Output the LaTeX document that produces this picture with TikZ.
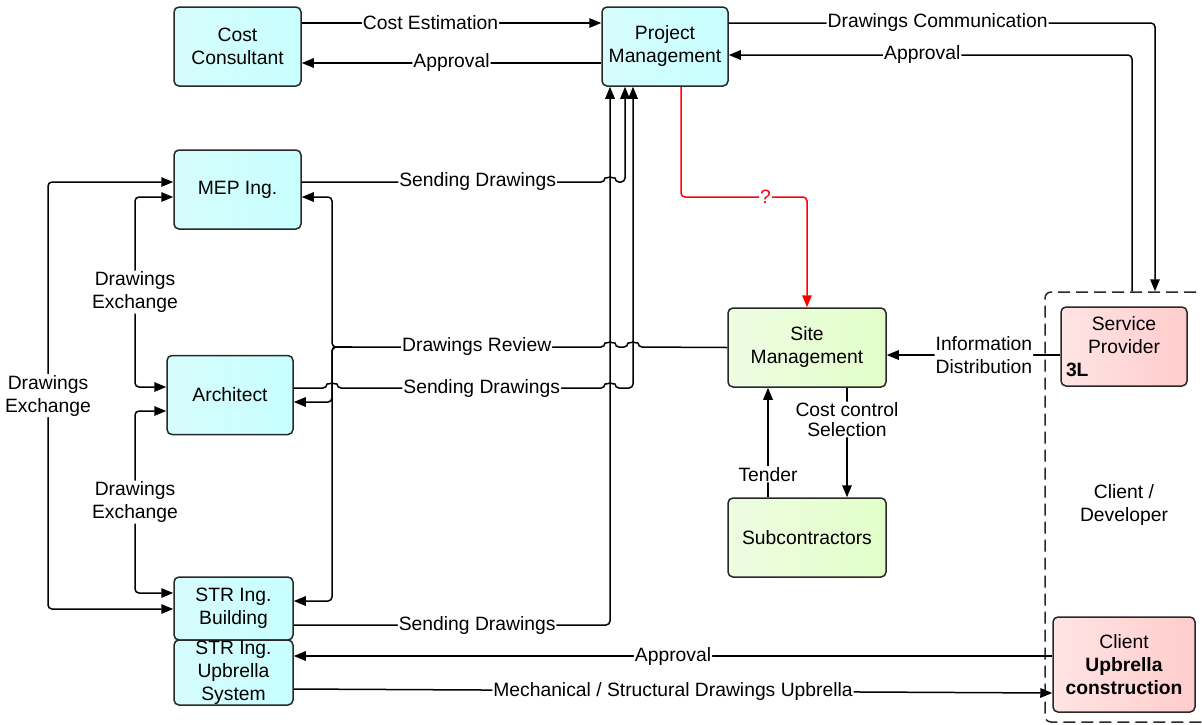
\documentclass[tikz,border=0pt]{standalone}
\usepackage{fontspec}
\setmainfont{Liberation Sans}
\usetikzlibrary{arrows.meta}

\definecolor{cyanA}{RGB}{214,252,252}
\definecolor{cyanB}{RGB}{200,255,255}
\definecolor{greenA}{RGB}{238,252,226}
\definecolor{greenB}{RGB}{226,255,200}
\definecolor{pinkA}{RGB}{255,228,228}
\definecolor{pinkB}{RGB}{255,204,204}
\definecolor{edge}{RGB}{40,40,40}

\tikzset{
  box/.style={draw=edge, line width=1.5pt, rounded corners=5pt, align=center, inner sep=2pt},
  cyanbox/.style={box, left color=cyanA, right color=cyanB},
  greenbox/.style={box, left color=greenA, right color=greenB},
  pinkbox/.style={box, left color=pinkA, right color=pinkB},
  arr/.style={draw=black, line width=1.5pt, rounded corners=4pt, -{Triangle[length=12pt,width=9.5pt]}},
  arrs/.style={arr, {Triangle[length=12pt,width=9.5pt]}-{Triangle[length=12pt,width=9.5pt]}},
  lbl/.style={fill=white, inner sep=1pt, align=center},
}

\begin{document}
\begin{tikzpicture}[x=1pt, y=-1pt, font=\fontsize{19.3}{23}\selectfont]
    \useasboundingbox (0,0) rectangle (1202,724);
    % client / developer frame
    \node[draw=edge, line width=1.5pt, dash pattern=on 12pt off 6pt, rounded corners=6pt,
          minimum width=175pt, minimum height=430pt] (dev) at (1132.5,507) {};
    \node[align=center] (devtxt) at (1124,505) {Client /\\Developer};
    % boxes
    \node[cyanbox, minimum width=127pt, minimum height=79pt] (cost) at (237.5,46.5) {Cost\\Consultant};
    \node[cyanbox, minimum width=126pt, minimum height=79pt] (pm) at (665,46.5) {Project\\Management};
    \node[cyanbox, minimum width=127pt, minimum height=79pt] (mep) at (237.5,189.5) {MEP Ing.};
    \node[cyanbox, minimum width=126pt, minimum height=79pt] (arch) at (230,395) {Architect};
    \node[cyanbox, minimum width=119pt, minimum height=63pt] (strb) at (233.5,608.5) {STR Ing.\\Building};
    \node[cyanbox, minimum width=119pt, minimum height=65pt, inner ysep=0pt] (stru) at (233.5,672.5) {STR Ing.\\Upbrella\\System};
    \node[greenbox, minimum width=158pt, minimum height=79pt] (site) at (807,347.5) {Site\\Management};
    \node[greenbox, minimum width=158pt, minimum height=79pt] (sub) at (807,537.5) {Subcontractors};
    \node[pinkbox, minimum width=126pt, minimum height=79pt] (sp) at (1124,346.5) {Service\\Provider\\\makebox[116pt][l]{\textbf{3L}}};
    \node[pinkbox, minimum width=142pt, minimum height=95pt] (cl) at (1124,664.5) {Client\\\textbf{Upbrella}\\\textbf{construction}};
    % cost consultant <-> project management
    \draw[arr] (cost.east |- 0,23) -- node[lbl, pos=0.43] {Cost Estimation} (pm.west |- 0,23);
    \draw[arr] (pm.west |- 0,63) -- node[lbl] {Approval} (cost.east |- 0,63);
    % project management <-> client side
    \draw[arr] (pm.east |- 0,23) -- node[lbl, pos=0.49] {Drawings Communication} (1155,23) -- (dev.north -| 1155,0);
    \draw[arr] (dev.north -| 1132,0) -- (1132,55) -- node[lbl, pos=0.52] {Approval} (pm.east |- 0,55);
    \draw[arr, red] (pm.south -| 681,0) -- (681,197) -- node[lbl, text=red, pos=0.67] {?} (site.north |- 0,197) -- (site.north);
    % sending drawings to project management
    \draw[arr] (mep.east |- 0,182) -- node[lbl, pos=0.58] {Sending Drawings} (605,182)
        arc[start angle=180, end angle=360, radius=5] -- (625,182) -- (pm.south -| 625,0);
    \draw[arr] (arch.east |- 0,388) -- (327,388) arc[start angle=180, end angle=360, radius=5]
        -- node[lbl, pos=0.54] {Sending Drawings} (605,388)
        arc[start angle=180, end angle=360, radius=5] -- (633,388) -- (pm.south -| 633,0);
    \draw[arr] (strb.east |- 0,625) -- node[lbl, pos=0.58] {Sending Drawings} (610,625) -- (pm.south -| 610,0);
    % drawings review from site management
    \coordinate (rv) at (332,347);
    \draw[arr] (site.west) -- (638,347) arc[start angle=360, end angle=180, radius=5]
        -- (615,347) arc[start angle=360, end angle=180, radius=5]
        -- node[lbl, pos=0.47] {Drawings Review} (rv) -- (332,197) -- (mep.east |- 0,197);
    \draw[arr] (352,347) -- (rv) -- (332,402) -- (arch.east |- 0,402);
    \draw[arr] (352,347) -- (rv) -- (332,601) -- (strb.east |- 0,601);
    % drawings exchange between designers
    \draw[arrs] (mep.west |- 0,197) -- (135,197) -- node[lbl] {Drawings\\Exchange} (135,387) -- (arch.west |- 0,387);
    \draw[arrs] (arch.west |- 0,411) -- (135,411) -- node[lbl] {Drawings\\Exchange} (135,593) -- (strb.west |- 0,593);
    \draw[arrs] (mep.west |- 0,182) -- (48,182) -- node[lbl] {Drawings\\Exchange} (48,609) -- (strb.west |- 0,609);
    % upbrella system <-> client
    \draw[arr] (cl.west |- 0,656) -- node[lbl] {Approval} (stru.east |- 0,656);
    \draw[arr] (stru.east |- 0,689) -- node[lbl] {Mechanical / Structural Drawings Upbrella} (cl.west |- 0,693);
    % site management
    \draw[arr] (sp.west |- 0,355) -- node[lbl, pos=0.44] {Information\\Distribution} (site.east |- 0,355);
    \draw[arr] (sub.north -| 768,0) -- node[lbl, pos=0.21] {Tender} (site.south -| 768,0);
    \draw[arr] (site.south -| 847,0) -- node[lbl, pos=0.29, font=\fontsize{19.3}{19.5}\selectfont] {Cost control\\Selection} (sub.north -| 847,0);
\end{tikzpicture}
\end{document}
